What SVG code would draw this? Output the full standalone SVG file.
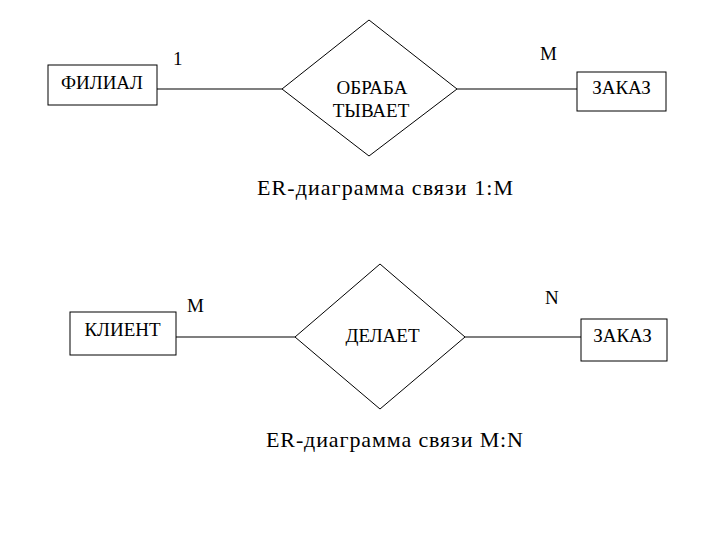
<svg xmlns="http://www.w3.org/2000/svg" width="720" height="540" viewBox="0 0 720 540" font-family="Liberation Serif, DejaVu Serif, serif">
<style>
.s{fill:#fff;stroke:#000;stroke-width:1}
.c{stroke:#000;stroke-width:1.2;fill:none}
.t{fill:#000;font-size:19px}
.cap{fill:#000;font-size:22px}
</style>
<rect width="720" height="540" fill="#fff"/>
<g id="connectors">
<line class="c" x1="157" y1="89" x2="282" y2="89"/>
<line class="c" x1="457" y1="89" x2="577" y2="89"/>
<line class="c" x1="176" y1="337" x2="295" y2="337"/>
<line class="c" x1="465" y1="337" x2="581" y2="337"/>
</g>
<g id="filial">
<rect class="s" x="48" y="65" width="109" height="40"/>
<text class="t" x="102" y="89" text-anchor="middle">ФИЛИАЛ</text>
</g>
<g id="obrabatyvaet">
<polygon class="s" points="369,20 457,89 369,156 282,89"/>
<text class="t" x="372" y="94" text-anchor="middle">ОБРАБА</text>
<text class="t" x="371" y="117" text-anchor="middle">ТЫВАЕТ</text>
</g>
<g id="zakaz1">
<rect class="s" x="577" y="72" width="89" height="39"/>
<text class="t" x="621.5" y="94" text-anchor="middle">ЗАКАЗ</text>
</g>
<g id="klient">
<rect class="s" x="70" y="312" width="106" height="43"/>
<text class="t" x="122.5" y="336" text-anchor="middle">КЛИЕНТ</text>
</g>
<g id="delaet">
<polygon class="s" points="380,264 465,337 380,409 295,337"/>
<text class="t" x="382.5" y="342" text-anchor="middle">ДЕЛАЕТ</text>
</g>
<g id="zakaz2">
<rect class="s" x="581" y="319" width="86" height="42"/>
<text class="t" x="622.5" y="342" text-anchor="middle">ЗАКАЗ</text>
</g>
<g id="labels">
<text class="t" x="173" y="65">1</text>
<text class="t" x="540" y="60">М</text>
<text class="t" x="187" y="312">М</text>
<text class="t" x="545" y="304">N</text>
<text class="cap" x="385" y="195" text-anchor="middle" textLength="256">ER-диаграмма связи 1:М</text>
<text class="cap" x="394.5" y="447" text-anchor="middle" textLength="257">ER-диаграмма связи M:N</text>
</g>
</svg>
